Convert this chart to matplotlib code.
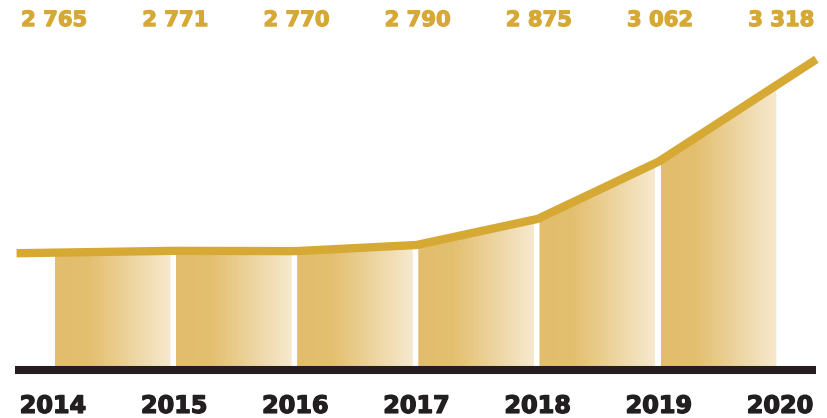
import numpy as np
import matplotlib.pyplot as plt
import matplotlib.patheffects as pe
from matplotlib.colors import LinearSegmentedColormap
from matplotlib.patches import Polygon
from matplotlib.transforms import blended_transform_factory

years = ['2014', '2015', '2016', '2017', '2018', '2019', '2020']
values = [2765, 2771, 2770, 2790, 2875, 3062, 3318]
labels = ['2 765', '2 771', '2 770', '2 790', '2 875', '3 062', '3 318']

gold = '#D5A934'
dark = '#231F20'
floor = 2383

x = np.arange(len(years))
y = np.array(values, dtype=float)

fig = plt.figure(figsize=(8.28, 4.18), dpi=100)
ax = fig.add_axes([0, 0, 1, 1])
ax.set_xlim(-0.437, 6.396)
ax.set_ylim(2226.5, 3588)
ax.axis('off')

# gradient fill under the line, one strip per interval
cmap = LinearSegmentedColormap.from_list(
    'bar', [(0, '#E2BD6D'), (0.3, '#E3BF70'), (1, '#F6E9CE')])
grad = np.linspace(0, 1, 256).reshape(1, -1)
for i in range(len(x) - 1):
    x0, x1 = x[i] + 0.015, x[i + 1] - 0.03
    t0, t1 = np.interp([x0, x1], x, y)
    poly = Polygon([(x0, floor), (x0, t0), (x1, t1), (x1, floor)],
                   closed=True, facecolor='none', edgecolor='none')
    ax.add_patch(poly)
    im = ax.imshow(grad, cmap=cmap, aspect='auto',
                   extent=[x0, x1, floor, max(t0, t1)], zorder=1)
    im.set_clip_path(poly)

# line, extended a little past both ends along the end segments
ext = 0.3
lx = np.concatenate([[x[0] - ext], x, [x[-1] + ext]])
ly = np.concatenate([[y[0] - ext * (y[1] - y[0])], y,
                     [y[-1] + ext * (y[-1] - y[-2])]])
ax.plot(lx, ly, color=gold, lw=6, solid_capstyle='butt',
        solid_joinstyle='miter', zorder=3)

ax.hlines(floor, -0.314, 6.30, color=dark, lw=5.8, capstyle='butt', zorder=4)

tr = blended_transform_factory(ax.transData, ax.transAxes)
for xi, lab, yr in zip(x, labels, years):
    ax.text(xi + 0.01, 0.952, lab, transform=tr, ha='center', va='center',
            fontsize=15.2, fontweight='bold', color=gold,
            path_effects=[pe.withStroke(linewidth=0.9, foreground=gold)])
    ax.text(xi, 0.029, yr, transform=tr, ha='center', va='center',
            fontsize=17.2, fontweight='bold', color=dark,
            path_effects=[pe.withStroke(linewidth=1.0, foreground=dark)])

fig.savefig('out.png', dpi=100)
